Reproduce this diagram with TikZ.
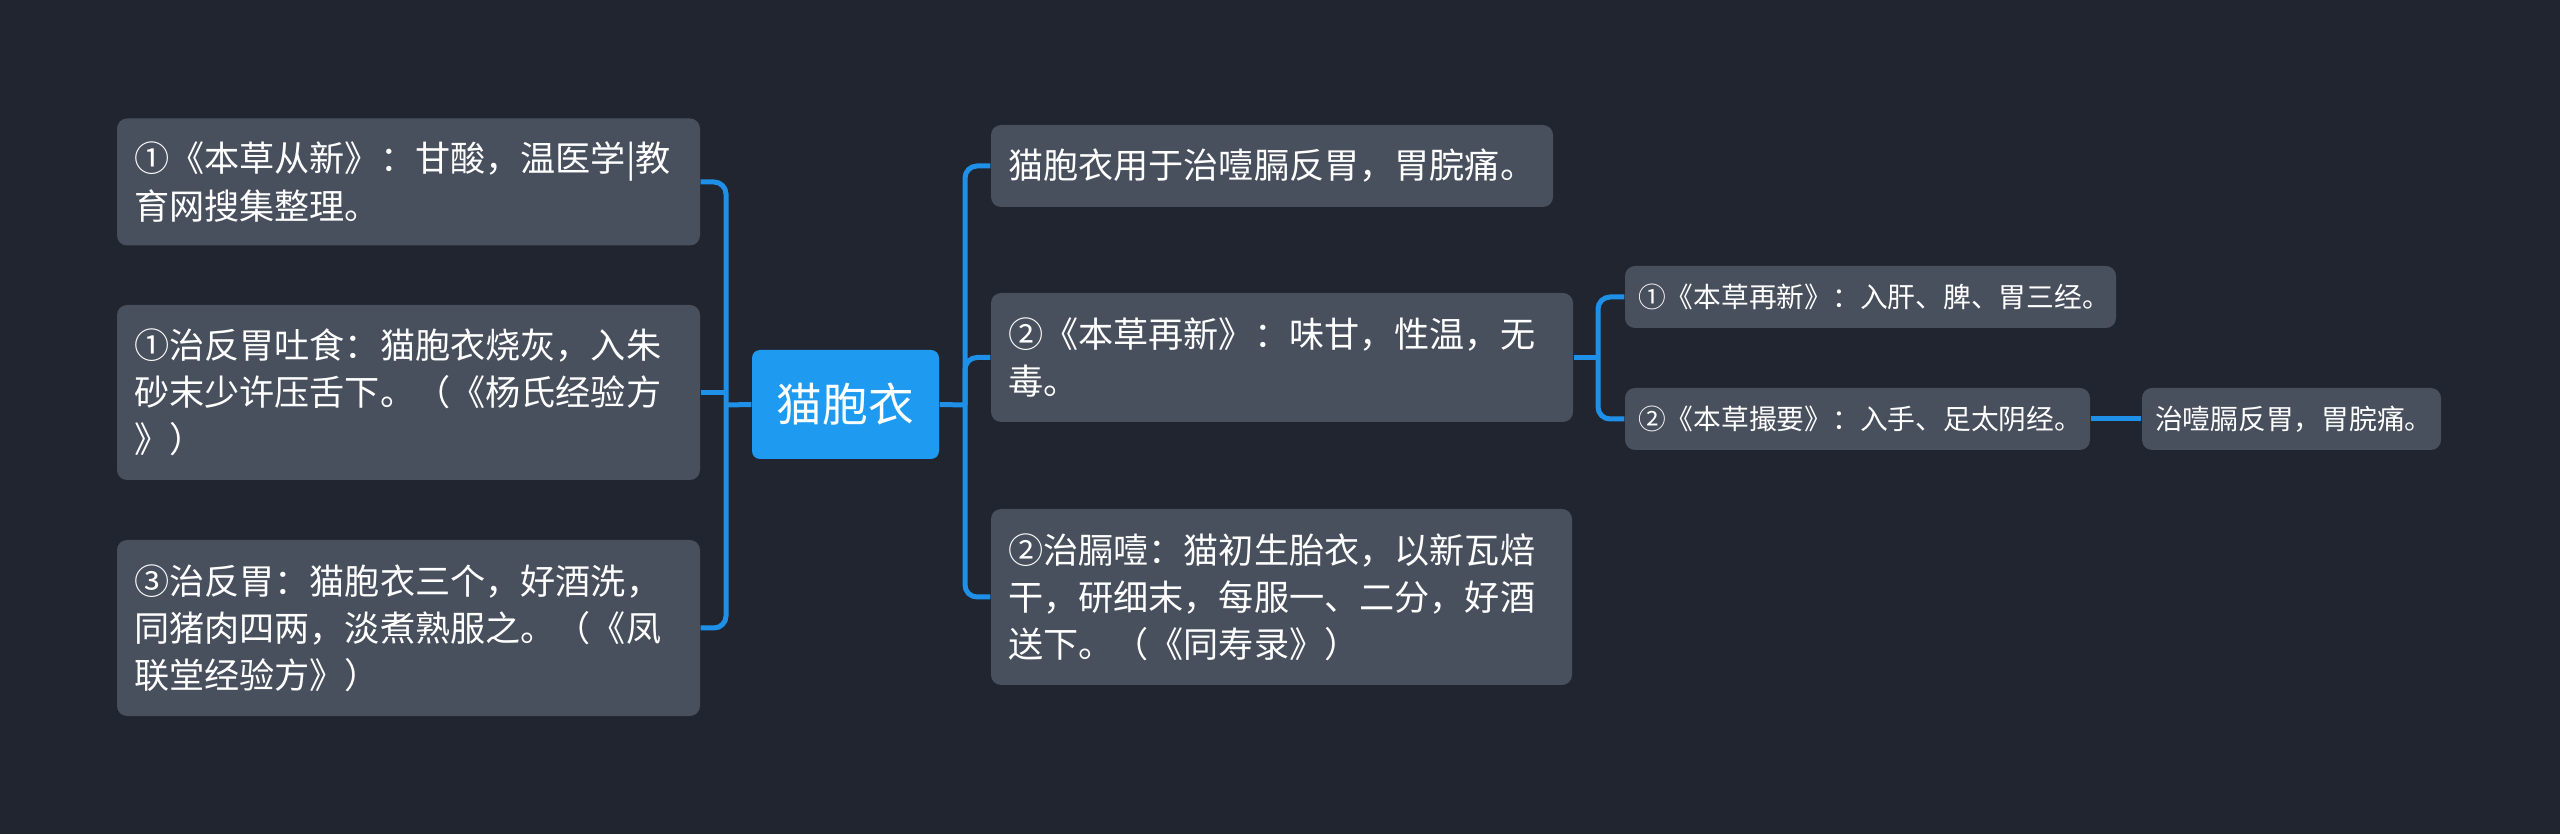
\documentclass[tikz,border=0pt]{standalone}
\usepackage{fontspec}
\usepackage{tikz}
\usepackage{xcolor}
\newfontfamily\cjk{Noto Sans CJK SC}
\definecolor{mapBg}{HTML}{21252F}
\definecolor{mapCard}{HTML}{484F5D}
\definecolor{mapBlue}{HTML}{1E9BF0}
\definecolor{mapLine}{HTML}{1E90E8}
\tikzset{
  card/.style={rounded corners=1mm,fill=mapCard,text=white,inner xsep=1.7mm,inner ysep=1mm,
               align=left,font=\cjk\fontsize{10}{13.4}\selectfont},
  leaf/.style={card,text width=#1},
  twig/.style={card,inner xsep=1.3mm,text width=#1,font=\cjk\fontsize{7.9}{10}\selectfont},
  hub/.style={rounded corners=0.8mm,fill=mapBlue,text=white,minimum width=18.7mm,
              minimum height=10.9mm,font=\cjk\fontsize{13}{16}\selectfont},
  link/.style={draw=mapLine,line width=0.5mm,rounded corners=1.2mm},
}

\begin{document}
\begin{tikzpicture}
    \useasboundingbox (0,0) rectangle (25.6,8.34);
    \fill[mapBg] (0,0) rectangle (25.6,8.34);

    \node[hub] at (8.455,4.295) (root) {猫胞衣};

    % left branch
    \node[leaf=54.9mm,minimum height=12.7mm] at (4.085,6.52) (congxin)
        {①《本草从新》：甘酸，温医学|教\\育网搜集整理。};
    \node[leaf=54.9mm,minimum height=17.5mm] at (4.085,4.415) (tushi)
        {①治反胃吐食：猫胞衣烧灰，入朱\\砂末少许压舌下。（《杨氏经验方\\》）};
    \node[leaf=54.9mm,minimum height=17.6mm] at (4.085,2.06) (fengl)
        {③治反胃：猫胞衣三个，好酒洗，\\同猪肉四两，淡煮熟服之。（《凤\\联堂经验方》）};

    % right branch
    \node[leaf=52.8mm,minimum height=8.2mm] at (12.72,6.68) (yongtu)
        {猫胞衣用于治噎膈反胃，胃脘痛。};
    \node[leaf=54.8mm,minimum height=12.9mm] at (12.82,4.765) (zaixin)
        {②《本草再新》：味甘，性温，无\\毒。};
    \node[leaf=54.7mm,minimum height=17.6mm] at (12.815,2.37) (geye)
        {②治膈噎：猫初生胎衣，以新瓦焙\\干，研细末，每服一、二分，好酒\\送下。（《同寿录》）};

    \node[twig=46.5mm,minimum height=6.2mm] at (18.705,5.37) (guijing)
        {①《本草再新》：入肝、脾、胃三经。};
    \node[twig=43.9mm,minimum height=6.2mm] at (18.575,4.15) (cuoyao)
        {②《本草撮要》：入手、足太阴经。};
    \node[twig=27.3mm,minimum height=6.2mm] at (22.915,4.15) (zhi)
        {治噎膈反胃，胃脘痛。};

    \coordinate (lbus) at (7.26,4.29);
    \coordinate (rbus) at (9.65,4.29);
    \coordinate (sbus) at (15.98,4.765);

    \draw[link] (congxin.east) -| (lbus) |- (fengl.east);
    \draw[link] (tushi.east) -- (tushi.east -| lbus);
    \draw[link] (root.west) -- (lbus);
    \draw[link] (yongtu.west) -| (rbus) |- (geye.west);
    \draw[link] (rbus) |- (zaixin.west);
    \draw[link] (root.east) -- (rbus);
    \draw[link] (guijing.west) -| (sbus) |- (cuoyao.west);
    \draw[link] (zaixin.east) -- (sbus);
    \draw[link] (cuoyao.east) -- (zhi.west);
\end{tikzpicture}
\end{document}
